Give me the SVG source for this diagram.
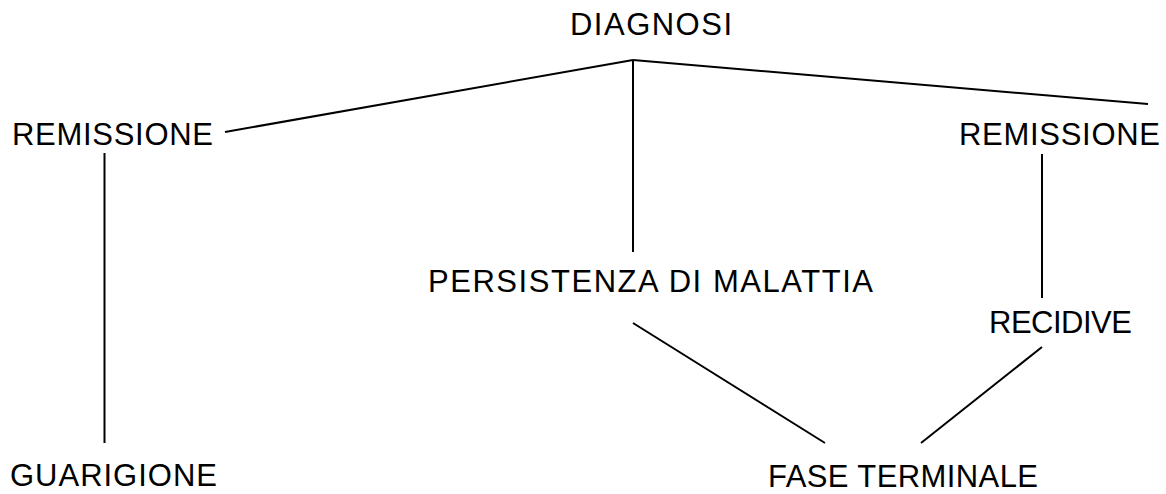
<svg xmlns="http://www.w3.org/2000/svg" width="1166" height="494" viewBox="0 0 1166 494">
<style>
text{font-family:"Liberation Sans",Arial,sans-serif;font-size:31px;fill:#000}
.c line{stroke:#000;stroke-width:2;fill:none}
</style>
<rect width="1166" height="494" fill="#fff"/>
<g class="c" id="connectors">
<line x1="633" y1="60" x2="225" y2="132"/>
<line x1="633" y1="60" x2="1148" y2="104"/>
<line x1="633" y1="60" x2="633" y2="252"/>
<line x1="104.5" y1="153" x2="104.5" y2="443"/>
<line x1="1042" y1="154" x2="1042" y2="298"/>
<line x1="633" y1="323" x2="825" y2="443"/>
<line x1="1042" y1="347" x2="921" y2="443"/>
</g>
<g id="diagnosi"><text x="570" y="35" textLength="162" lengthAdjust="spacing">DIAGNOSI</text></g>
<g id="remissione1"><text x="12" y="145" textLength="201" lengthAdjust="spacing">REMISSIONE</text></g>
<g id="remissione2"><text x="959" y="145" textLength="201" lengthAdjust="spacing">REMISSIONE</text></g>
<g id="persistenza"><text x="428" y="292" textLength="445" lengthAdjust="spacing">PERSISTENZA DI MALATTIA</text></g>
<g id="recidive"><text x="989" y="333" textLength="143" lengthAdjust="spacing">RECIDIVE</text></g>
<g id="guarigione"><text x="10" y="486" textLength="207" lengthAdjust="spacing">GUARIGIONE</text></g>
<g id="fase"><text x="768" y="487" textLength="270" lengthAdjust="spacing">FASE TERMINALE</text></g>
</svg>
